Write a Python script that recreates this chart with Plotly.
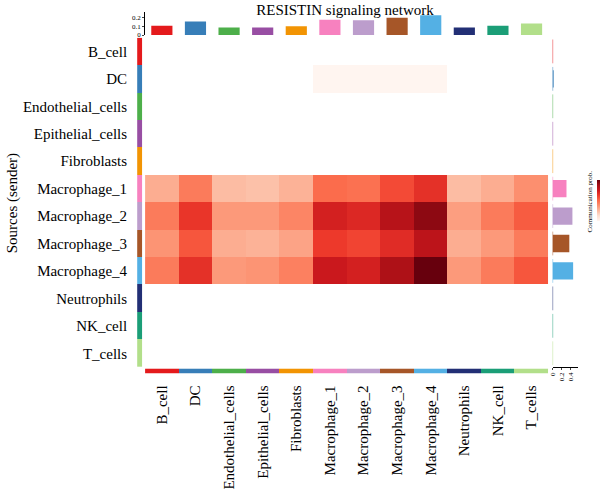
import plotly.graph_objects as go
import numpy as np

cells = ["B_cell", "DC", "Endothelial_cells", "Epithelial_cells", "Fibroblasts",
         "Macrophage_1", "Macrophage_2", "Macrophage_3", "Macrophage_4",
         "Neutrophils", "NK_cell", "T_cells"]
cell_colors = ["#E41A1C", "#377EB8", "#4DAF4A", "#984EA3", "#F29403", "#F781BF",
               "#BC9DCC", "#A65628", "#54B0E4", "#222F75", "#1B9E77", "#B2DF8A"]

# communication probability: sender rows -> receiver columns
b_cell = [0, 0, 0, 0, 0, 0, 0, 0, 0, 0, 0, 0]
dc = [0, 0, 0, 0, 0, 0.001, 0.001, 0.001, 0.001, 0, 0, 0]
endothelial = [0, 0, 0, 0, 0, 0, 0, 0, 0, 0, 0, 0]
epithelial = [0, 0, 0, 0, 0, 0, 0, 0, 0, 0, 0, 0]
fibroblasts = [0, 0, 0, 0, 0, 0, 0, 0, 0, 0, 0, 0]
macrophage_1 = [0.020, 0.030, 0.017, 0.016, 0.019, 0.033, 0.032, 0.039, 0.044, 0.017, 0.020, 0.026]
macrophage_2 = [0.030, 0.043, 0.024, 0.024, 0.028, 0.048, 0.046, 0.054, 0.061, 0.023, 0.030, 0.036]
macrophage_3 = [0.025, 0.037, 0.020, 0.019, 0.022, 0.042, 0.040, 0.045, 0.053, 0.020, 0.024, 0.030]
macrophage_4 = [0.030, 0.044, 0.024, 0.025, 0.029, 0.050, 0.048, 0.056, 0.066, 0.024, 0.030, 0.037]
neutrophils = [0, 0, 0, 0, 0, 0, 0, 0, 0, 0, 0, 0]
nk_cell = [0, 0, 0, 0, 0, 0, 0, 0, 0, 0, 0, 0]
t_cells = [0, 0, 0, 0, 0, 0, 0, 0, 0, 0, 0, 0]

mat = np.array([b_cell, dc, endothelial, epithelial, fibroblasts, macrophage_1,
                macrophage_2, macrophage_3, macrophage_4, neutrophils, nk_cell, t_cells], dtype=float)
row_sums = mat.sum(axis=1)
col_sums = mat.sum(axis=0)
z = np.where(mat == 0, np.nan, mat)

reds = ["#fff5f0", "#fee0d2", "#fcbba1", "#fc9272", "#fb6a4a", "#ef3b2c", "#cb181d", "#a50f15", "#67000d"]
reds_scale = [[i / 8, c] for i, c in enumerate(reds)]

W, H = 600, 491
fx = lambda p: p / W
fy = lambda p: 1 - p / H
FONT = "Liberation Serif"

n = len(cells)
disc = []
for i, c in enumerate(cell_colors):
    disc.append([i / n, c])
    disc.append([(i + 1) / n, c])

fig = go.Figure()

# main heatmap
fig.add_trace(go.Heatmap(
    z=z.tolist(), x=cells, y=cells, colorscale=reds_scale,
    zmin=np.nanmin(z), zmax=np.nanmax(z), xaxis="x", yaxis="y",
    colorbar=dict(x=fx(596.5), xanchor="left", thickness=3, len=41 / H, lenmode="fraction",
                  y=fy(202.5), yanchor="middle", showticklabels=False, ticks="",
                  outlinewidth=0, xpad=0, ypad=0),
))

# left sender color strip
fig.add_trace(go.Heatmap(
    z=[[i] for i in range(n)], x=["s"], y=cells, colorscale=disc, zmin=-0.5, zmax=n - 0.5,
    showscale=False, xaxis="x3", yaxis="y",
))
# bottom receiver color strip
fig.add_trace(go.Heatmap(
    z=[list(range(n))], x=cells, y=["r"], colorscale=disc, zmin=-0.5, zmax=n - 0.5,
    showscale=False, xaxis="x", yaxis="y4",
))

# top bars: incoming totals
fig.add_trace(go.Bar(x=cells, y=col_sums, marker_color=cell_colors, marker_line_width=0,
                     xaxis="x", yaxis="y5", showlegend=False))
# right bars: outgoing totals
fig.add_trace(go.Bar(y=cells, x=row_sums, orientation="h", marker_color=cell_colors,
                     marker_line_width=0, xaxis="x6", yaxis="y", showlegend=False))
# bar borders at zero (visible for zero-length bars)
fig.add_trace(go.Scatter(x=[0] * n, y=cells, mode="markers", xaxis="x6", yaxis="y",
                         marker=dict(symbol="line-ns", size=17,
                                     line=dict(color=cell_colors, width=1)),
                         showlegend=False, hoverinfo="skip"))

ax_common = dict(showgrid=False, zeroline=False)

fig.update_layout(
    width=W, height=H, margin=dict(l=0, r=0, t=0, b=0),
    paper_bgcolor="white", plot_bgcolor="rgba(0,0,0,0)",
    font=dict(family=FONT, color="black"),
    bargap=0.37, showlegend=False,
    title=dict(text="RESISTIN signaling network", x=fx(345), xanchor="center",
               y=fy(10), yanchor="middle", font=dict(family=FONT, size=15, color="black")),
    xaxis=dict(domain=[fx(142), fx(548)], anchor="y4", type="category",
               categoryarray=cells, range=[-0.5, n - 0.5], tickangle=-90,
               tickfont=dict(size=15), ticks="", showline=False, ticklabelstandoff=8,
               **ax_common),
    yaxis=dict(domain=[fy(370), fy(38)], anchor="x3", type="category",
               categoryarray=cells, range=[n - 0.5, -0.5], tickfont=dict(size=15),
               ticks="", showline=False, ticklabelstandoff=9, **ax_common),
    xaxis3=dict(domain=[fx(134), fx(139.5)], anchor="y", showticklabels=False,
                ticks="", **ax_common),
    yaxis4=dict(domain=[fy(376.5), fy(371.5)], anchor="x", showticklabels=False,
                ticks="", **ax_common),
    yaxis5=dict(domain=[fy(35.3), fy(12)], anchor="x", range=[0, 23.3 / 89],
                tickvals=[0, 0.1, 0.2], ticktext=["0", "0.1", "0.2"],
                tickfont=dict(size=7), ticks="outside", ticklen=2, tickwidth=0.6,
                showline=True, linecolor="black", linewidth=0.6, **ax_common),
    xaxis6=dict(domain=[fx(552.3), fx(578)], anchor="y", range=[0, 25.7 / 44.6],
                tickvals=[0, 0.2, 0.4], ticktext=["0", "0.2", "0.4"], tickangle=-90,
                tickfont=dict(size=7), ticks="outside", ticklen=2, tickwidth=0.6,
                showline=True, linecolor="black", linewidth=0.6, **ax_common),
)

fig.add_annotation(text="Sources (sender)", x=fx(8), y=fy(205), xref="paper", yref="paper",
                   xanchor="center", yanchor="middle",
                   textangle=-90, showarrow=False, font=dict(family=FONT, size=15, color="black"))
fig.add_annotation(text="Communication prob.", x=fx(590), y=fy(203), xref="paper", yref="paper",
                   xanchor="center", yanchor="middle",
                   textangle=-90, showarrow=False,
                   font=dict(family=FONT, size=7, color="black"))

fig.write_html("out.html")
